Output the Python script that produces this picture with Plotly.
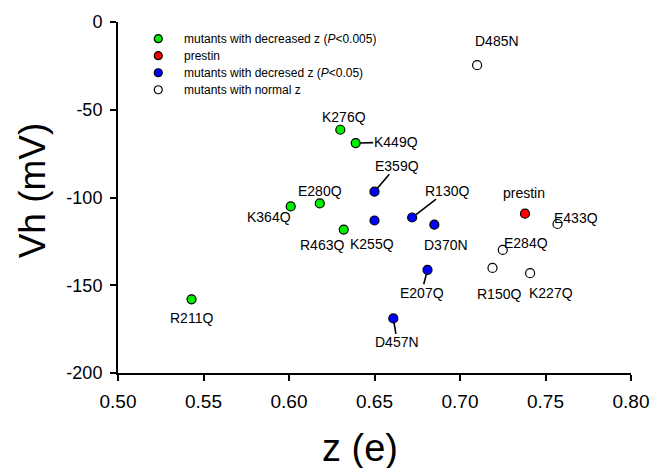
import plotly.graph_objects as go

# ---------------- data ----------------
mutants = ["D485N", "K276Q", "K449Q", "E359Q", "E280Q", "K364Q", "R130Q", "K255Q",
           "D370N", "R463Q", "prestin", "E433Q", "E284Q", "R150Q", "K227Q", "E207Q",
           "D457N", "R211Q"]
z_values = [0.710, 0.630, 0.639, 0.650, 0.618, 0.601, 0.672, 0.650,
            0.685, 0.632, 0.738, 0.757, 0.725, 0.719, 0.741, 0.681,
            0.661, 0.543]
vh_values = [-24.6, -61.4, -69.0, -96.7, -103.4, -105.1, -111.4, -113.1,
             -115.5, -118.3, -109.2, -115.1, -129.9, -140.1, -143.1, -141.2,
             -168.9, -158.0]
groups = ["normal", "dec005", "dec005", "dec05", "dec005", "dec005", "dec05", "dec05",
          "dec05", "dec005", "prestin", "normal", "normal", "normal", "normal", "dec05",
          "dec05", "dec005"]

legend_order = ["dec005", "prestin", "dec05", "normal"]
legend_labels = ["mutants with decreased z (<i>P</i><0.005)", "prestin",
                 "mutants with decresed z (<i>P</i><0.05)", "mutants with normal z"]

x_ticks = [0.50, 0.55, 0.60, 0.65, 0.70, 0.75, 0.80]
y_ticks = [-200, -150, -100, -50, 0]
y_tick_labels = ["-200", "-150", "-100", "-50", "0"]

# ---------------- styles / label placement ----------------
group_fill = {"dec005": "#00ee00", "prestin": "#ff0000", "dec05": "#0000ff", "normal": "#ffffff"}
# label offsets in pixels (dx right, dy down) and whether a leader line is drawn
label_offsets = {
    "D485N": (20, -24, False), "K276Q": (4, -13, False), "K449Q": (40, -1, True),
    "E359Q": (22, -26, True), "E280Q": (0, -12, False), "K364Q": (-22, 11, False),
    "R130Q": (35, -27, True), "K255Q": (-3, 24, False), "D370N": (12, 20, False),
    "R463Q": (-22, 15, False), "prestin": (-1, -21, False), "E433Q": (19, -6, False),
    "E284Q": (23, -7, False), "R150Q": (7, 26, False), "K227Q": (21, 20, False),
    "E207Q": (-6, 23, True), "D457N": (4, 24, True), "R211Q": (0, 19, False),
}

FONT = "Liberation Sans, Arial, sans-serif"

fig = go.Figure()

for g in legend_order:
    xs = [z for z, gg in zip(z_values, groups) if gg == g]
    ys = [v for v, gg in zip(vh_values, groups) if gg == g]
    fig.add_trace(go.Scatter(
        x=xs, y=ys, mode="markers", showlegend=False,
        marker=dict(size=9, color=group_fill[g], line=dict(color="black", width=1.2)),
    ))

# point labels
for name, z, v in zip(mutants, z_values, vh_values):
    dx, dy, line = label_offsets[name]
    if line:
        fig.add_annotation(x=z, y=v, xref="x", yref="y", text=name, showarrow=True,
                           ax=dx, ay=dy, arrowhead=0, arrowwidth=1.6, arrowcolor="black",
                           standoff=4.5, borderpad=0,
                           font=dict(family=FONT, size=14, color="black"))
    else:
        fig.add_annotation(x=z, y=v, xref="x", yref="y", text=name, showarrow=False,
                           xshift=dx, yshift=-dy,
                           font=dict(family=FONT, size=14, color="black"))

# manual legend on an overlay axis (rows 0..3)
rows = list(range(len(legend_order)))
fig.add_trace(go.Scatter(
    x=[0.0785] * len(rows), y=rows, xaxis="x2", yaxis="y2", mode="markers",
    showlegend=False, hoverinfo="skip",
    marker=dict(size=8, color=[group_fill[g] for g in legend_order],
                line=dict(color="black", width=1.2)),
))
for r, lab in zip(rows, legend_labels):
    fig.add_annotation(x=0.1253, y=r, xref="x2", yref="y2", text=lab, showarrow=False,
                       xanchor="left", yanchor="middle",
                       font=dict(family=FONT, size=12, color="black"))

# axis titles
fig.add_annotation(x=0.4717, y=-0.215, xref="paper", yref="paper", text="z (e)",
                   showarrow=False, xanchor="center", yanchor="middle",
                   font=dict(family=FONT, size=38, color="black"))
fig.add_annotation(x=-0.166, y=0.52, xref="paper", yref="paper", text="Vh (mV)",
                   showarrow=False, textangle=-90, xanchor="center", yanchor="middle",
                   font=dict(family=FONT, size=37, color="black"))

fig.update_layout(
    width=662, height=468,
    margin=dict(l=118, r=31, t=16, b=95),
    paper_bgcolor="white", plot_bgcolor="white",
    showlegend=False,
    font=dict(family=FONT, color="black"),
    xaxis=dict(range=[0.5, 0.8], tickvals=x_ticks, tickformat=".2f",
               showgrid=False, zeroline=False, showline=True, linecolor="black",
               linewidth=2, ticks="outside", ticklen=6, tickwidth=2, tickcolor="black",
               tickfont=dict(family=FONT, size=19), ticklabelstandoff=4),
    yaxis=dict(range=[-200, 0], tickvals=y_ticks, ticktext=y_tick_labels,
               showgrid=False, zeroline=False, showline=True, linecolor="black",
               linewidth=2, ticks="outside", ticklen=6, tickwidth=2, tickcolor="black",
               tickfont=dict(family=FONT, size=18), ticklabelstandoff=4),
    xaxis2=dict(range=[0, 1], overlaying="x", visible=False),
    yaxis2=dict(range=[19.64, -0.981], overlaying="y", visible=False),
)

# remove the page's default 8px body margin so the figure fills the window exactly
fig.write_html("out.html", config={"displayModeBar": False},
               post_script="document.body.style.margin='0';")
